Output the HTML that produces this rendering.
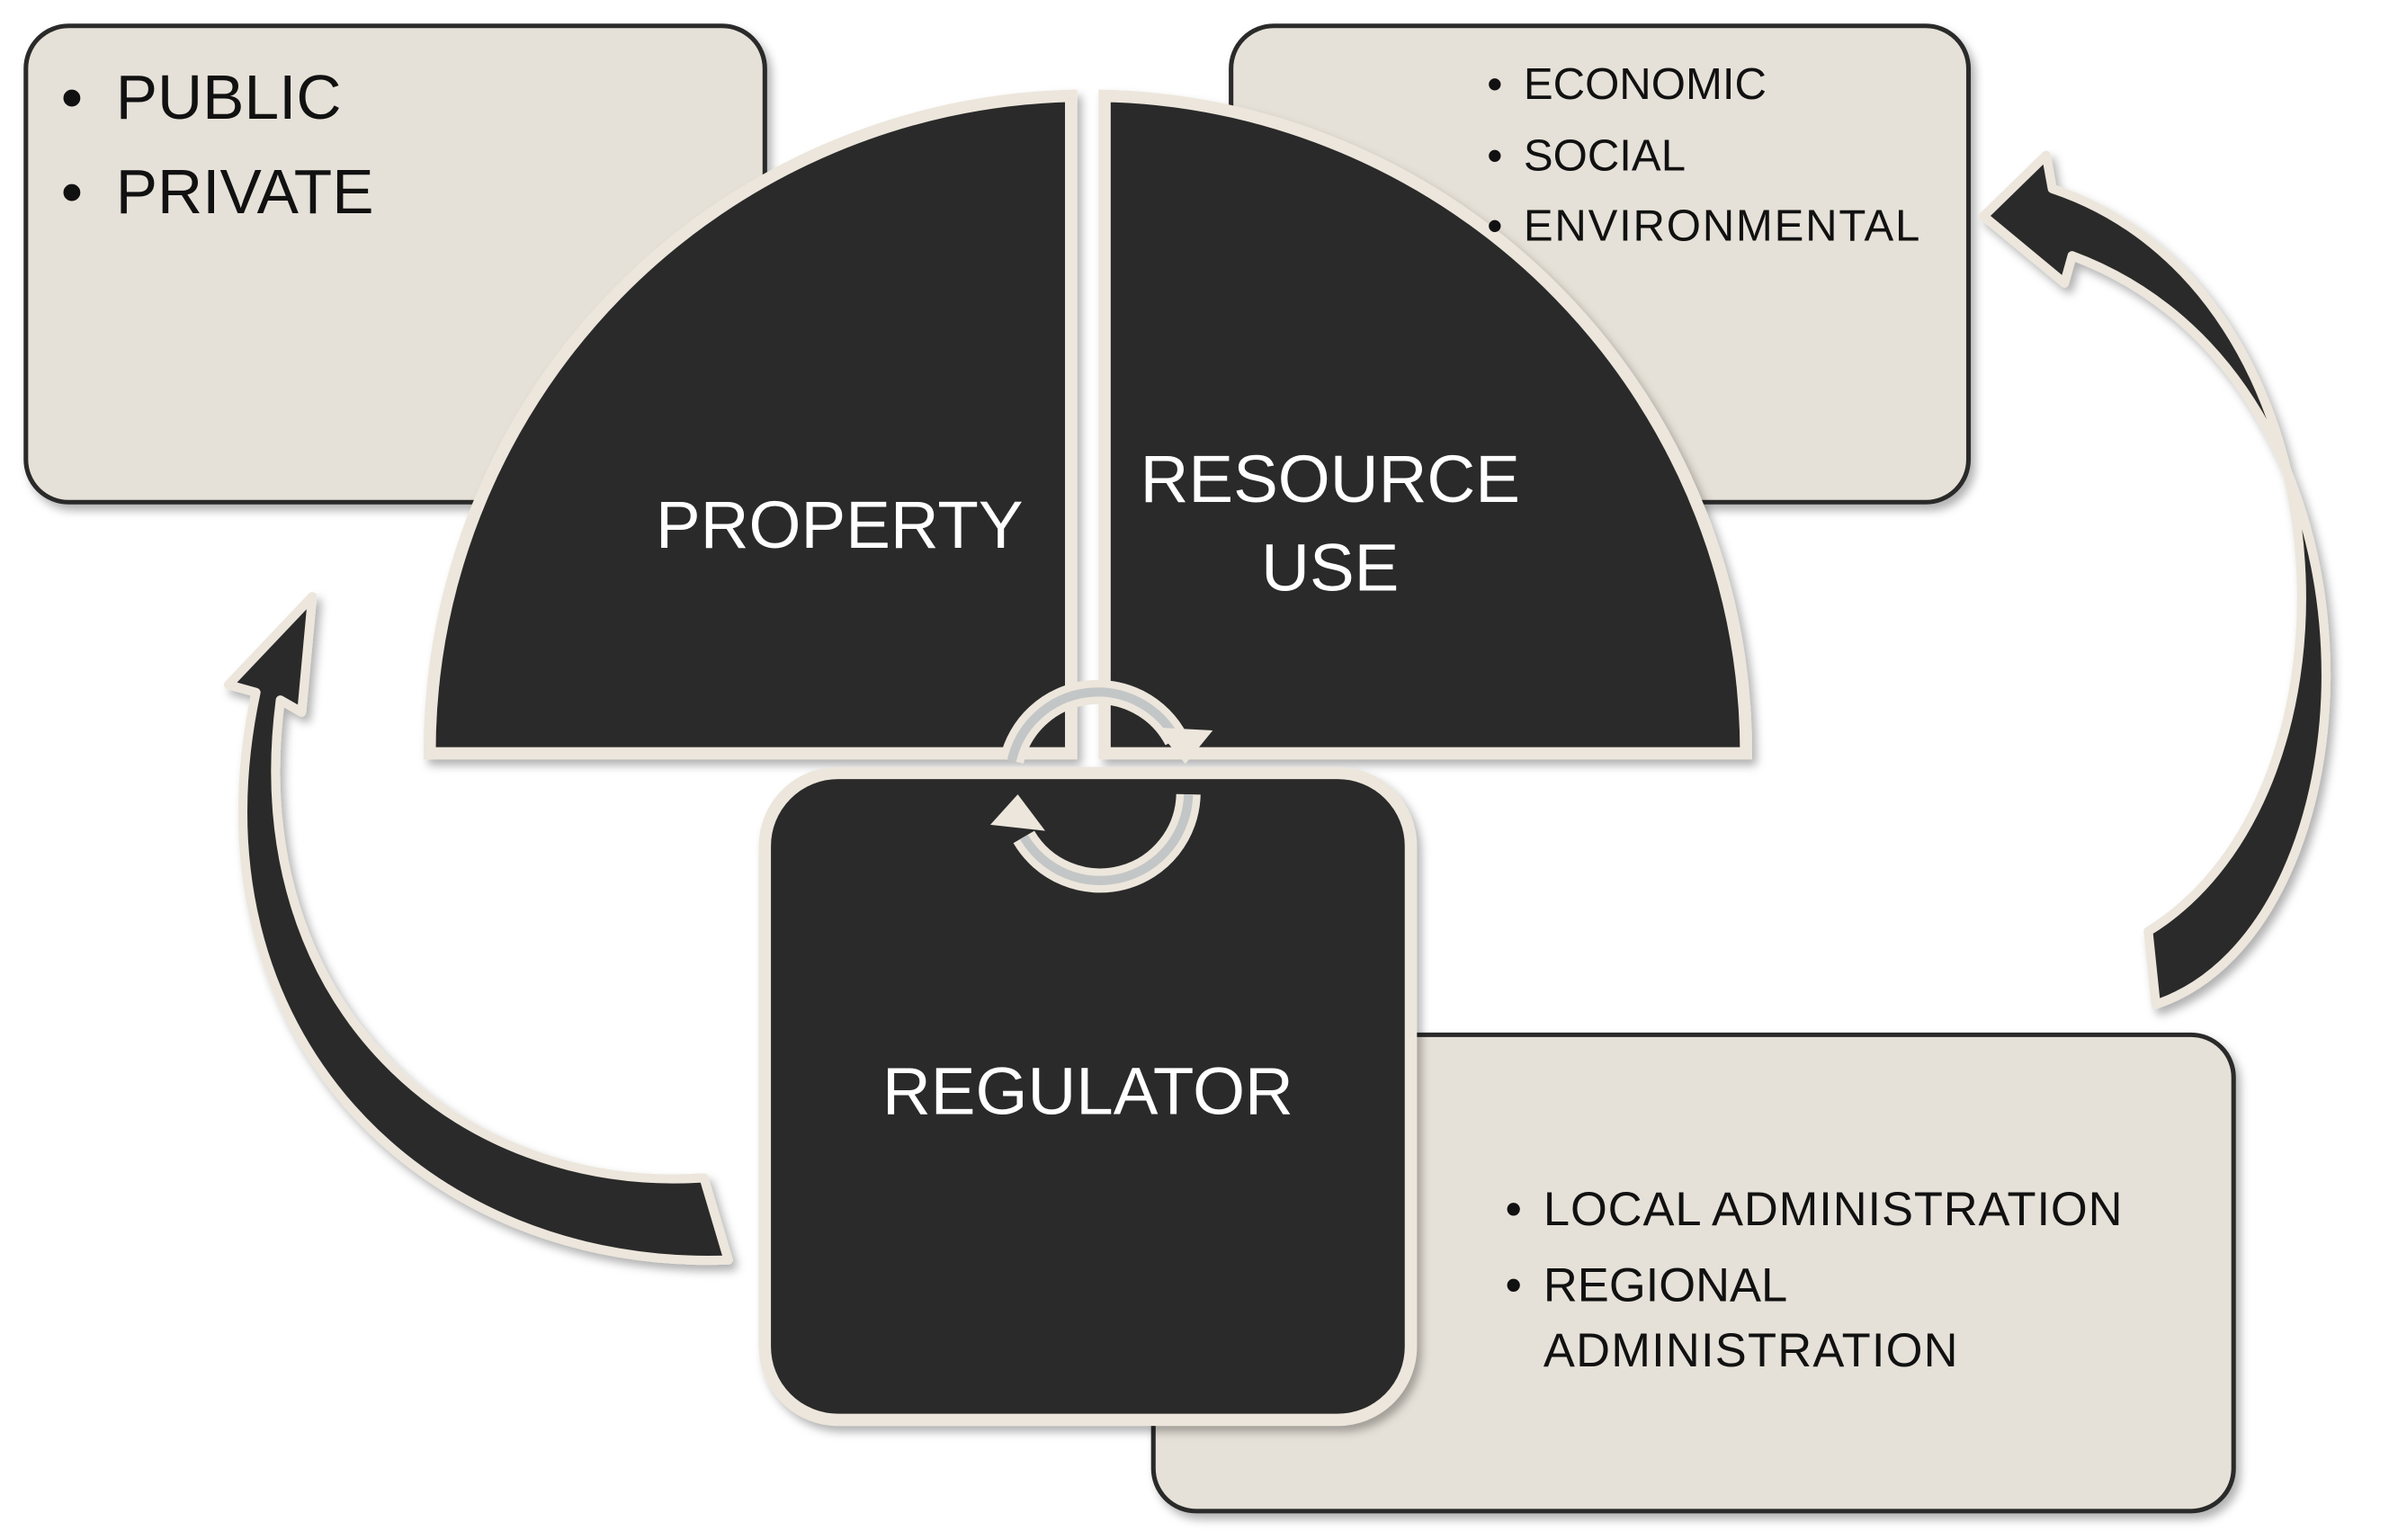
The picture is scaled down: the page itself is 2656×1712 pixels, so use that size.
<!DOCTYPE html>
<html><head><meta charset="utf-8"><style>
html,body{margin:0;padding:0;background:#fff;}
svg{display:block;}
text{font-family:"Liberation Sans",sans-serif;}
</style></head><body>
<svg width="2656" height="1712" viewBox="0 0 1568 1012" preserveAspectRatio="none" xmlns="http://www.w3.org/2000/svg">
<defs>
<filter id="sh" x="-10%" y="-10%" width="120%" height="120%"><feDropShadow dx="3" dy="4" stdDeviation="3" flood-color="#000" flood-opacity="0.3"/></filter>
</defs>
<g fill="#e6e1d8" stroke="#2b2a29" stroke-width="3" filter="url(#sh)">
<rect x="17" y="17" width="485" height="313" rx="28"/>
<rect x="808" y="17" width="484" height="313" rx="28"/>
<rect x="757" y="680" width="709" height="313" rx="28"/>
</g>
<g fill="#2b2a29" stroke="#ece6dc" stroke-width="6" stroke-linejoin="round" filter="url(#sh)">
<path d="M 478 828 C 280 835 120 680 168 455 L 150 450 L 205 392 L 198 468 L 184 460 C 158 660 300 785 462 774 Z"/>
<path d="M 1415 660 C 1565 610 1580 250 1360 168 L 1355 186 L 1302 142 L 1343 102 L 1347 124 C 1545 190 1560 520 1410 612 Z"/>
</g>
<g fill="#2b2a29" stroke="#ece6dc" stroke-width="8" filter="url(#sh)">
<path d="M 282 495 A 432 432 0 0 1 703 63 L 703 495 Z"/>
<path d="M 725 495 L 725 63 A 432 432 0 0 1 1146 495 Z"/>
</g>
<rect x="502" y="508" width="424" height="425" rx="48" fill="#2b2a29" stroke="#ece6dc" stroke-width="8" filter="url(#sh)"/>
<g fill="none">
<path d="M 664 500 A 58 58 0 0 1 772 486" stroke="#ece6dc" stroke-width="16"/>
<path d="M 664 500 A 58 58 0 0 1 772 486" stroke="#c3c6c6" stroke-width="6"/>
<path d="M 780 522 A 58 58 0 0 1 672 550" stroke="#ece6dc" stroke-width="16"/>
<path d="M 780 522 A 58 58 0 0 1 672 550" stroke="#c3c6c6" stroke-width="6"/>
</g>
<g fill="#ece6dc">
<polygon points="758,478 796,480 778,502"/>
<polygon points="686,546 650,542 668,522"/>
</g>
<g fill="#111" font-size="41">
<text x="40" y="78">•</text><text x="76" y="78">PUBLIC</text>
<text x="40" y="140">•</text><text x="76" y="140">PRIVATE</text>
</g>
<g fill="#111" font-size="29">
<text x="976" y="65">•</text><text x="1000" y="65">ECONOMIC</text>
<text x="976" y="112">•</text><text x="1000" y="112">SOCIAL</text>
<text x="976" y="158">•</text><text x="1000" y="158" textLength="260">ENVIRONMENTAL</text>
</g>
<g fill="#111" font-size="31">
<text x="988" y="805">•</text><text x="1013" y="805" textLength="380">LOCAL ADMINISTRATION</text>
<text x="988" y="855">•</text><text x="1013" y="855">REGIONAL</text>
<text x="1013" y="898" textLength="272">ADMINISTRATION</text>
</g>
<g fill="#fff" font-size="44" text-anchor="middle">
<text x="551" y="360">PROPERTY</text>
<text x="873" y="330">RESOURCE</text>
<text x="873" y="388">USE</text>
<text x="714" y="732">REGULATOR</text>
</g>
</svg>
</body></html>
